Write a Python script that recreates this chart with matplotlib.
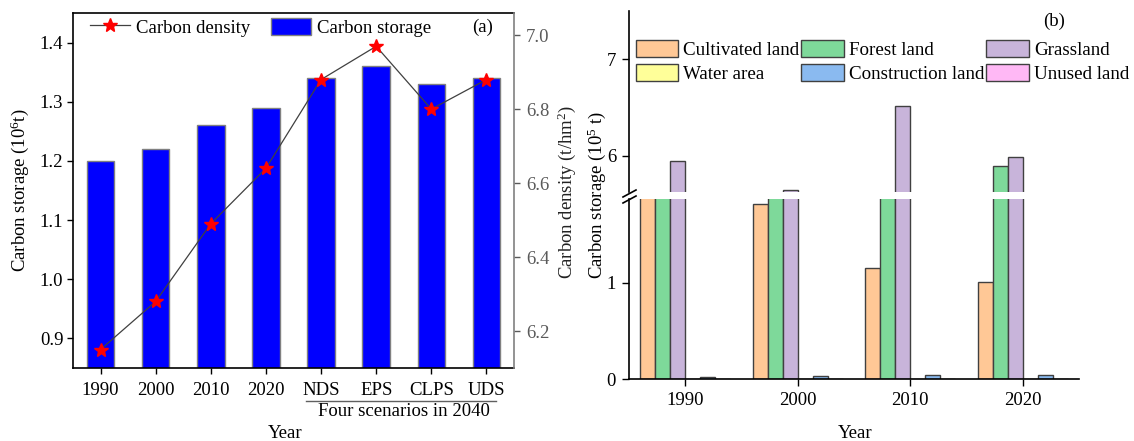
import matplotlib
matplotlib.use("Agg")
import matplotlib.pyplot as plt
import numpy as np
from matplotlib.lines import Line2D
from matplotlib.patches import Patch

plt.rcParams['font.family'] = ['Liberation Serif', 'DejaVu Serif']
plt.rcParams['mathtext.fontset'] = 'custom'
plt.rcParams['mathtext.rm'] = 'Liberation Serif'
plt.rcParams['mathtext.it'] = 'Liberation Serif:italic'

# ---- data: panel (a) ----
periods = ['1990', '2000', '2010', '2020', 'NDS', 'EPS', 'CLPS', 'UDS']
storage_total = [1.20, 1.22, 1.26, 1.29, 1.34, 1.36, 1.33, 1.34]      # 10^6 t
density_total = [6.15, 6.28, 6.49, 6.64, 6.88, 6.97, 6.80, 6.88]      # t/hm2

# ---- data: panel (b) ----
years_b = ['1990', '2000', '2010', '2020']
land_types = ['Cultivated land', 'Forest land', 'Grassland',
              'Water area', 'Construction land', 'Unused land']
cultivated = [2.20, 1.82, 1.16, 1.01]      # 10^5 t
forest = [3.80, 4.70, 4.90, 5.89]
grassland = [5.94, 5.64, 6.51, 5.99]
water = [0.0, 0.0, 0.0, 0.0]
construction = [0.02, 0.03, 0.04, 0.04]
unused = [0.0, 0.0, 0.0, 0.0]
land_colors = ['#FFC896', '#7ED99A', '#C8B4DA', '#FFFF99', '#8ABAF0', '#FFB8F5']

W, H = 1134, 441
fig = plt.figure(figsize=(W / 100, H / 100), dpi=100)


def fx(px):
    return px / W


def fy(py):
    return 1 - py / H


FS = 13.5

# ================= panel (a) =================
axA = fig.add_axes([fx(73), fy(368), fx(514) - fx(73), fy(13) - fy(368)])
xa = np.arange(len(periods))
axA.bar(xa, storage_total, width=0.5, color='#0000FF', edgecolor='#808080',
        linewidth=1.0, zorder=2)
axA.set_xlim(-0.5, 7.5)
axA.set_ylim(0.85, 1.45)
axA.set_yticks([0.9, 1.0, 1.1, 1.2, 1.3, 1.4])
axA.set_yticklabels(['0.9', '1.0', '1.1', '1.2', '1.3', '1.4'])
axA.set_xticks(xa)
axA.set_xticklabels(periods)
axA.tick_params(axis='both', direction='out', length=4.5, width=1.0,
                labelsize=FS, color='black')
axA.tick_params(axis='y', pad=2.5)
axA.tick_params(axis='x', pad=5.3)
for s in ['left', 'bottom', 'top']:
    axA.spines[s].set_linewidth(1.2)
    axA.spines[s].set_color('black')
axA.spines['right'].set_visible(False)

axA2 = axA.twinx()
axA2.plot(xa, density_total, color='#404040', linewidth=0.9, marker='*',
          markersize=10, markerfacecolor='red', markeredgecolor='red', zorder=3)
axA2.set_ylim(6.1, 7.06)
axA2.set_yticks([6.2, 6.4, 6.6, 6.8, 7.0])
axA2.set_yticklabels(['6.2', '6.4', '6.6', '6.8', '7.0'])
axA2.tick_params(axis='y', direction='out', length=4.5, width=1.0,
                 labelsize=FS, colors='#5a5a5a', pad=4.3)
for s in ['left', 'bottom', 'top']:
    axA2.spines[s].set_visible(False)
axA2.spines['right'].set_color('#808080')
axA2.spines['right'].set_linewidth(1.2)

fig.text(fx(20), fy(190), 'Carbon storage (10$^{6}$t)', fontsize=FS,
         rotation=90, ha='center', va='center')
fig.text(fx(567), fy(192), 'Carbon density (t/hm$^{2}$)', fontsize=FS,
         rotation=90, ha='center', va='center', color='#222222')

handles_a = [Line2D([0], [0], color='#404040', linewidth=0.9, marker='*',
                    markersize=10, markerfacecolor='red', markeredgecolor='red'),
             Patch(facecolor='#0000FF', edgecolor='#808080', linewidth=1.0)]
axA2.legend(handles_a, ['Carbon density', 'Carbon storage'], ncol=2,
            loc='upper left', bbox_to_anchor=(fx(90), fy(17.5)),
            bbox_transform=fig.transFigure, frameon=False, fontsize=FS,
            borderpad=0, borderaxespad=0, handlelength=2.15, handleheight=1.05,
            handletextpad=0.3, columnspacing=1.1)

fig.text(fx(483), fy(27), '(a)', fontsize=FS, ha='center', va='center')

# scenario bracket
fig.add_artist(Line2D([fx(306), fx(496)], [fy(401), fy(401)],
                      color='#606060', linewidth=1.0))
fig.text(fx(404), fy(412), 'Four scenarios in 2040', fontsize=FS,
         ha='center', va='center')
fig.text(fx(285), fy(433), 'Year', fontsize=FS, ha='center', va='center')

# ================= panel (b) =================
left_b, right_b = 629, 1079
axLow = fig.add_axes([fx(left_b), fy(379.3), fx(right_b) - fx(left_b),
                      fy(199) - fy(379.3)])
axUp = fig.add_axes([fx(left_b), fy(192), fx(right_b) - fx(left_b),
                     fy(11) - fy(192)])

series_b = [cultivated, forest, grassland, water, construction, unused]
xb = np.arange(len(years_b))
bw = 0.8 / 6
for ax in (axLow, axUp):
    for i, (vals, col) in enumerate(zip(series_b, land_colors)):
        ax.bar(xb + (i - 2.5) * bw, vals, width=bw, color=col,
               edgecolor='#404040', linewidth=1.0, zorder=2)
    ax.set_xlim(-0.5, 3.5)
    ax.spines['top'].set_visible(False)
    ax.spines['right'].set_visible(False)
    ax.spines['left'].set_linewidth(1.2)
    ax.spines['bottom'].set_linewidth(1.2)
    ax.tick_params(axis='both', direction='out', length=5, width=1.0,
                   labelsize=FS, pad=4.3)

axLow.set_ylim(0, 1.872)
axLow.set_yticks([0, 1])
axLow.set_xticks(xb)
axLow.set_xticklabels(years_b)
axLow.tick_params(axis='x', pad=4.5)

axUp.set_ylim(5.623, 7.5)
axUp.set_yticks([6, 7])
axUp.spines['bottom'].set_visible(False)
axUp.tick_params(axis='x', bottom=False, labelbottom=False)

# axis-break marks on the left spine
for yb in (193.5, 199.5):
    fig.add_artist(Line2D([fx(623), fx(636)], [fy(yb + 3.5), fy(yb - 3.5)],
                          color='black', linewidth=1.2))

handles_b = [Patch(facecolor=c, edgecolor='#404040', linewidth=1.0)
             for c in land_colors]
order = [0, 3, 1, 4, 2, 5]
axUp.legend([handles_b[k] for k in order], [land_types[k] for k in order],
            ncol=3, loc='upper left', bbox_to_anchor=(fx(635.5), fy(40)),
            bbox_transform=fig.transFigure, frameon=False, fontsize=13.7,
            borderpad=0, borderaxespad=0, handlelength=2.25, handleheight=1.0,
            handletextpad=0.26, columnspacing=0.1, labelspacing=0.25)

fig.text(fx(1054), fy(21), '(b)', fontsize=FS, ha='center', va='center')
fig.text(fx(597), fy(195), 'Carbon storage (10$^{5}$ t)', fontsize=FS,
         rotation=90, ha='center', va='center')
fig.text(fx(855), fy(433), 'Year', fontsize=FS, ha='center', va='center')

fig.savefig('out.png', dpi=100)
